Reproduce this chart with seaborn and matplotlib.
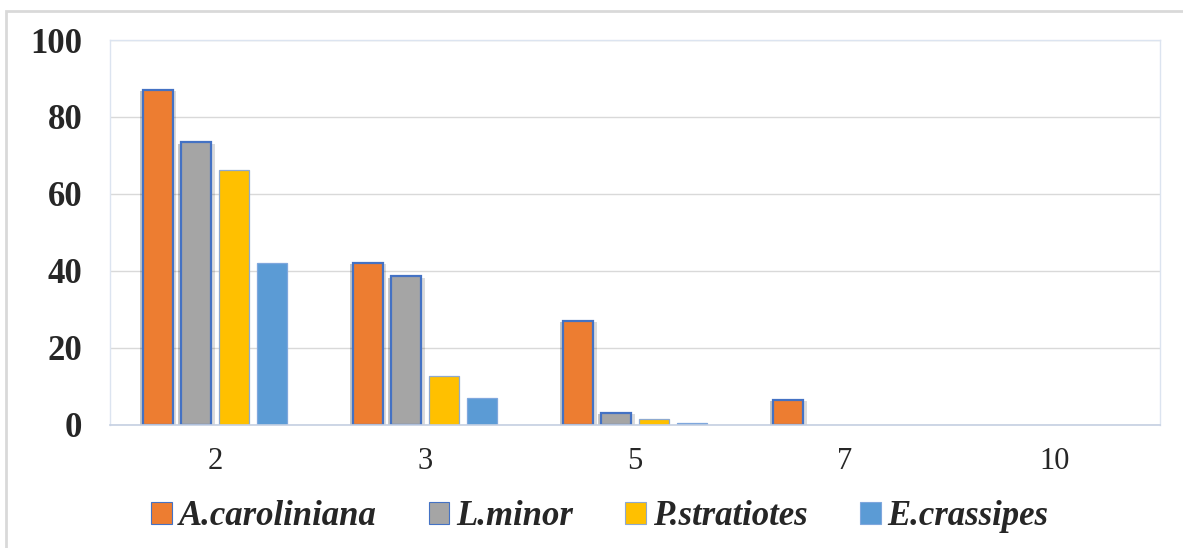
import matplotlib
matplotlib.use("Agg")
import matplotlib.pyplot as plt
import matplotlib.patheffects as pe
from matplotlib.patches import Rectangle
import seaborn as sns
import pandas as pd

# Categories on the x axis and the four species series
doses = ["2", "3", "5", "7", "10"]
species = ["A.caroliniana", "L.minor", "P.stratiotes", "E.crassipes"]
a_caroliniana = [87.0, 42.2, 27.1, 6.5, 0.0]
l_minor = [73.4, 38.6, 3.2, 0.0, 0.0]
p_stratiotes = [66.2, 12.8, 1.5, 0.0, 0.0]
e_crassipes = [42.1, 7.1, 0.6, 0.0, 0.0]
y_ticks = [0, 20, 40, 60, 80, 100]

colors = ["#ED7D31", "#A5A5A5", "#FFC000", "#5B9BD5"]
edge_colors = ["#4472C4", "#4472C4", "#8EA9CF", "#7FA7DD"]
edge_widths = [1.6, 1.6, 0.9, 0.9]

series = [a_caroliniana, l_minor, p_stratiotes, e_crassipes]
df = pd.DataFrame(
    [(d, s, v) for s, vals in zip(species, series) for d, v in zip(doses, vals)],
    columns=["dose", "species", "value"],
)

sns.set_theme(style="white")
plt.rcParams["font.family"] = ["Liberation Serif", "DejaVu Serif"]

fig = plt.figure(figsize=(11.83, 5.48), dpi=100)
ax = fig.add_axes([0.093, 0.2245, 0.8876, 0.7025])

sns.barplot(
    data=df, x="dose", y="value", hue="species",
    order=doses, hue_order=species, palette=colors,
    width=0.724, gap=0.21, saturation=1, ax=ax, legend=True,
)

for i, cont in enumerate(ax.containers):
    for bar in cont.patches:
        if bar.get_height() <= 0:
            bar.set_linewidth(0)
            continue
        bar.set_edgecolor(edge_colors[i])
        bar.set_linewidth(edge_widths[i])
        if i < 2:
            bar.set_path_effects([
                pe.SimplePatchShadow(offset=(-2.5, -1), shadow_rgbFace="black", alpha=0.22),
                pe.SimplePatchShadow(offset=(2.5, -1), shadow_rgbFace="black", alpha=0.14),
                pe.Normal(),
            ])

ax.set_ylim(0, 100)
ax.set_yticks(y_ticks)
ax.set_yticklabels([str(t) for t in y_ticks], fontsize=25, fontweight="bold")
ax.tick_params(axis="y", length=0, pad=20)
ax.tick_params(axis="x", length=0, pad=16, labelsize=22)
ax.set_xlabel("")
ax.set_ylabel("")
ax.yaxis.grid(True, color="#D9D9D9", linewidth=1.0)
ax.set_axisbelow(True)

for side in ["left", "top", "right"]:
    ax.spines[side].set_color("#DCE4F0")
    ax.spines[side].set_linewidth(1.0)
ax.spines["bottom"].set_color("#C5D0E2")
ax.spines["bottom"].set_linewidth(1.2)

handles, labels = ax.get_legend_handles_labels()
ax.get_legend().remove()
for h, ec in zip(handles, edge_colors):
    h.set_edgecolor(ec)
    h.set_linewidth(0.8)
fig.legend(
    handles, labels, loc="center", bbox_to_anchor=(0.507, 0.057), ncol=4,
    frameon=False, handlelength=0.6, handleheight=0.6, handletextpad=0.2,
    columnspacing=1.5,
    prop={"family": "Liberation Serif", "style": "italic", "weight": "bold", "size": 25},
)

# Outer chart-area border
fig.patches.append(Rectangle((6 / 1183, -0.1), 1.2, (548 - 11) / 548 + 0.1,
                             transform=fig.transFigure, fill=False,
                             edgecolor="#D9D9D9", linewidth=2.0))

fig.savefig("out.png", dpi=100)
